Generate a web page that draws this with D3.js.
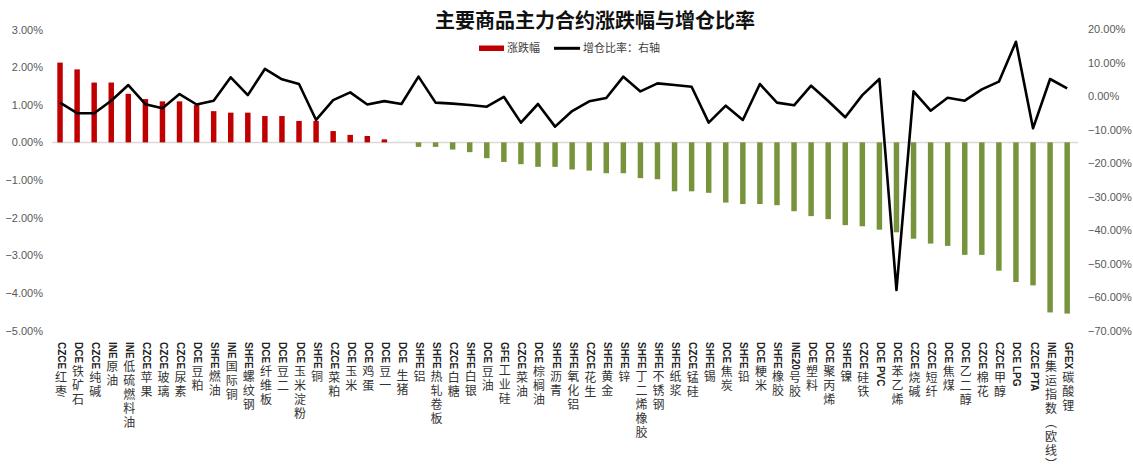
<!DOCTYPE html>
<html><head><meta charset="utf-8">
<script src="https://cdn.jsdelivr.net/npm/d3@7"></script>
<style>body{margin:0;background:#fff}svg{display:block}</style>
</head><body>
<svg id="c" width="1133" height="473"></svg>
<script>
const categories = ["CZCE红枣","DCE铁矿石","CZCE纯碱","INE原油","INE低硫燃料油","CZCE苹果","CZCE玻璃","CZCE尿素","DCE豆粕","SHFE燃油",
"INE国际铜","SHFE螺纹钢","DCE纤维板","DCE豆二","DCE玉米淀粉","SHFE铜","CZCE菜粕","DCE玉米","DCE鸡蛋","DCE豆一",
"DCE 生猪","SHFE铝","SHFE热轧卷板","CZCE白糖","SHFE白银","DCE豆油","GFE工业硅","CZCE菜油","DCE棕榈油","SHFE沥青",
"SHFE氧化铝","CZCE花生","SHFE黄金","SHFE锌","SHFE丁二烯橡胶","SHFE不锈钢","SHFE纸浆","CZCE锰硅","SHFE锡","DCE焦炭",
"SHFE铅","DCE粳米","SHFE橡胶","INE20号胶","DCE塑料","DCE聚丙烯","SHFE镍","CZCE硅铁","DCE PVC","DCE苯乙烯",
"CZCE烧碱","CZCE短纤","DCE焦煤","DCE乙二醇","CZCE棉花","CZCE甲醇","DCE LPG","CZCE PTA","INE集运指数（欧线）","GFEX碳酸锂"];
const changePct = [2.12,1.94,1.59,1.59,1.29,1.15,1.09,1.09,0.99,0.83,
0.79,0.79,0.70,0.70,0.57,0.57,0.30,0.20,0.17,0.08,
0.00,-0.12,-0.12,-0.19,-0.26,-0.42,-0.52,-0.58,-0.65,-0.65,
-0.72,-0.75,-0.82,-0.82,-0.95,-0.98,-1.30,-1.30,-1.34,-1.60,
-1.64,-1.64,-1.67,-1.83,-1.96,-2.04,-2.20,-2.23,-2.32,-2.39,
-2.56,-2.69,-2.75,-2.99,-2.99,-3.41,-3.71,-3.80,-4.52,-4.55];
const oiRatio = [-1.97,-5.1,-5.1,-1.4,3.3,-2.4,-3.6,0.6,-2.5,-1.4,
5.6,0.3,8.1,5.0,3.6,-7.1,-1.2,1.1,-2.5,-1.5,
-2.35,5.8,-1.95,-2.25,-2.65,-3.15,-0.2,-7.9,-2.35,-9.1,
-4.45,-1.55,-0.57,5.8,1.4,3.8,3.3,2.8,-7.9,-2.85,
-7.1,3.6,-1.95,-2.75,3.1,-1.45,-6.3,0.3,5.1,-57.8,
1.4,-4.35,-0.47,-1.37,2.0,4.3,16.2,-9.6,5.1,2.3];
const leftTicks = [3,2,1,0,-1,-2,-3,-4,-5];
const rightTicks = [20,10,0,-10,-20,-30,-40,-50,-60,-70];
const titleText = "主要商品主力合约涨跌幅与增仓比率";
const legendLabels = ["涨跌幅","增仓比率：右轴"];

const svg = d3.select("#c");
const x = d3.scaleBand().domain(categories).range([51.5, 1075.7]).paddingInner(0.68).paddingOuter(0.34);
const cx = c => x(c) + x.bandwidth()/2;
const yL = d3.scaleLinear().domain([-5,3]).range([330.5,29.5]);
const yR = d3.scaleLinear().domain([-70,20]).range([331,29]);

svg.append("line").attr("x1",52).attr("x2",1078).attr("y1",yL(0)).attr("y2",yL(0))
  .attr("stroke","#d9d9d9").attr("stroke-width",1.5);

svg.append("g").selectAll("rect").data(categories).join("rect")
  .attr("x", c => x(c))
  .attr("width", x.bandwidth())
  .attr("y", (c,i) => yL(Math.max(0, changePct[i])))
  .attr("height", (c,i) => Math.abs(yL(changePct[i]) - yL(0)))
  .attr("fill", (c,i) => changePct[i] >= 0 ? "#C00000" : "#77933C");

svg.append("path").datum(categories)
  .attr("d", d3.line().x(c => cx(c)).y(c => yR(oiRatio[categories.indexOf(c)])))
  .attr("fill","none").attr("stroke","#000").attr("stroke-width",2.6).attr("stroke-linejoin","round");

const fmt = d => d3.format(".2f")(d) + "%";
const gl = svg.append("g").attr("transform","translate(45,0)")
  .call(d3.axisLeft(yL).tickValues(leftTicks).tickFormat(fmt).tickSize(0).tickPadding(2));
const gr = svg.append("g").attr("transform","translate(1086,0)")
  .call(d3.axisRight(yR).tickValues(rightTicks).tickFormat(fmt).tickSize(0).tickPadding(2));
[gl,gr].forEach(g => {
  g.select(".domain").remove();
  g.selectAll("text").attr("font-family","'Liberation Sans', Arial, sans-serif").attr("font-size",11).attr("fill","#595959");
});

const lg = svg.append("g");
categories.forEach(c => {
  const parts = c.match(/[\x00-\x7F]+|[^\x00-\x7F]+/g);
  let yPos = 342;
  parts.forEach(p => {
    const ascii = /^[\x00-\x7F]+$/.test(p);
    const t = lg.append("text").attr("x", cx(c) + 1).attr("y", yPos)
      .attr("style","writing-mode: vertical-rl;")
      .attr("font-family", ascii ? "'Liberation Sans', Arial, sans-serif" : "'Noto Sans CJK SC', sans-serif")
      .attr("font-weight", ascii ? "bold" : "normal")
      .attr("font-size", ascii ? 10 : 12)
      .attr("letter-spacing", ascii ? 0 : 2)
      .attr("fill", ascii ? "#222" : "#333")
      .text(p.trim());
    let len = t.node().getComputedTextLength();
    if (p.endsWith(" ")) len += 4;
    yPos += len + 2;
  });
});

svg.append("text").attr("x",595).attr("y",28).attr("text-anchor","middle")
  .attr("font-family","'Noto Sans CJK SC', sans-serif").attr("font-weight","bold")
  .attr("font-size",20).attr("fill","#111").text(titleText);

const leg = svg.append("g");
leg.append("rect").attr("x",479).attr("y",45.5).attr("width",25).attr("height",5.5).attr("fill","#C00000");
leg.append("text").attr("x",507).attr("y",52).attr("font-family","'Noto Sans CJK SC', sans-serif")
  .attr("font-size",11).attr("fill","#404040").text(legendLabels[0]);
leg.append("line").attr("x1",554).attr("x2",580).attr("y1",48.3).attr("y2",48.3).attr("stroke","#000").attr("stroke-width",3);
leg.append("text").attr("x",583).attr("y",52).attr("font-family","'Noto Sans CJK SC', sans-serif")
  .attr("font-size",11).attr("fill","#404040").text(legendLabels[1]);
</script>
</body></html>
